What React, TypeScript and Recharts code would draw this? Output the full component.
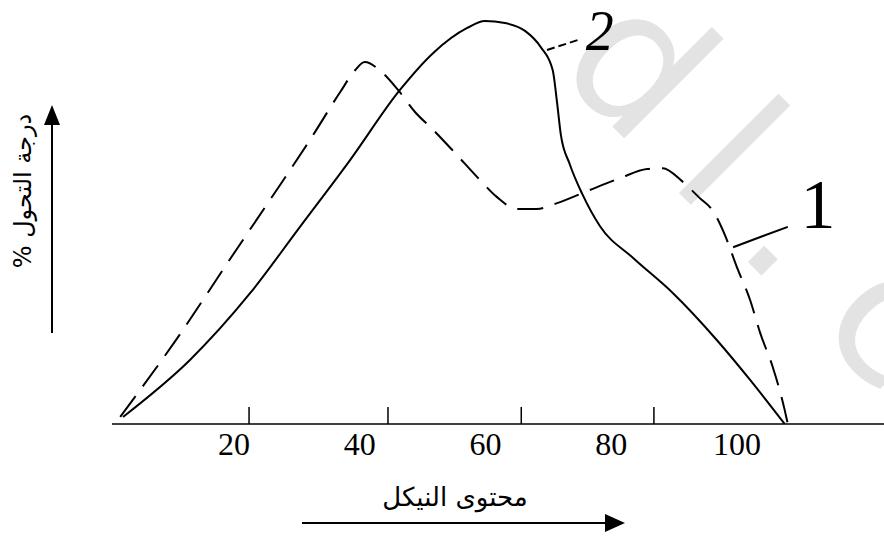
import React from "react";
import {
  LineChart,
  Line,
  XAxis,
  YAxis,
  ReferenceLine,
  ReferenceDot,
} from "recharts";

// nickel content (x) vs transformation degree % (y)
const curve1X = [1.9, 11.1, 19.05, 25.7, 32.1, 36.9, 39.3, 40.8, 43.5, 46.1, 48.8, 51.7, 55.2, 59.1, 61.8, 65.0, 68.2, 71.4, 76.2, 81.4, 85.7, 88.2, 91.4, 94.1, 96.2, 98.1, 100.0, 102.1, 103.7, 105.7, 107.6, 108.1];
const curve1Y = [1.7, 20.9, 38.9, 53.8, 68.3, 79.8, 85.1, 87.0, 84.6, 80.3, 75.0, 70.7, 65.1, 58.7, 54.6, 51.7, 51.7, 53.1, 56.0, 59.1, 61.3, 61.5, 58.2, 54.3, 51.2, 45.4, 37.7, 29.8, 21.9, 13.7, 3.4, 0];

const curve2X = [2.35, 13.0, 22.6, 30.5, 38.5, 46.4, 51.7, 57.1, 59.9, 63.1, 66.3, 68.8, 70.7, 71.4, 72.0, 73.4, 75.4, 78.2, 83.5, 89.8, 96.8, 102.1, 107.6];
const curve2Y = [1.7, 15.4, 31.5, 47.4, 63.5, 80.3, 89.2, 95.2, 96.9, 96.4, 94.5, 90.6, 85.1, 77.2, 69.5, 62.5, 55.3, 47.6, 39.9, 31.5, 20.2, 10.6, 0];

const xTicks = [20, 40, 60, 80, 100];
// the printed tick marks sit a bit right of the numbers
const tickMarks = [22.4, 44.5, 65.7, 86.8];

const curve1 = curve1X.map((x, i) => ({ x, y: curve1Y[i] }));
const curve2 = curve2X.map((x, i) => ({ x, y: curve2Y[i] }));

const FONT_AR = "'DejaVu Sans', sans-serif";
const FONT_NUM = "'Liberation Serif', serif";

export default function App() {
  return (
    <div style={{ position: "absolute", left: 0, top: 0, width: 884, height: 538, background: "#fff" }}>
      {/* watermark */}
      <svg width={884} height={538} style={{ position: "absolute", left: 0, top: 0 }}>
        <g transform="translate(683,197) rotate(45)" fontFamily="'DejaVu Sans', sans-serif" fontSize={185} fill="#e3e3e3">
          <text x={-184} y={0}>d</text>
          <text x={-23} y={0}>l</text>
          <text x={72} y={0}>.</text>
          <text x={185} y={0}>c</text>
        </g>
      </svg>

      <div style={{ position: "absolute", left: 0, top: 0 }}>
        <LineChart width={884} height={538} margin={{ top: 8, right: 0, bottom: 0, left: 112 }}>
          <XAxis
            type="number"
            dataKey="x"
            domain={[0.6, 123.4]}
            ticks={xTicks}
            allowDataOverflow
            height={114}
            tickLine={false}
            tickMargin={2}
            axisLine={{ stroke: "#000", strokeWidth: 1.5 }}
            tick={{ fill: "#000", fontSize: 32, fontFamily: FONT_NUM }}
          />
          <YAxis
            type="number"
            domain={[0, 100]}
            width={0}
            tick={false}
            tickLine={false}
            axisLine={{ stroke: "#000", strokeWidth: 1.5 }}
          />
          {tickMarks.map((t) => (
            <ReferenceLine
              key={t}
              segment={[{ x: t, y: 0 }, { x: t, y: 4.1 }]}
              stroke="#000"
              strokeWidth={1.5}
            />
          ))}
          <Line
            data={curve1}
            dataKey="y"
            type="monotone"
            stroke="#000"
            strokeWidth={2}
            strokeDasharray="26 12"
            dot={false}
            isAnimationActive={false}
          />
          <Line
            data={curve2}
            dataKey="y"
            type="monotone"
            stroke="#000"
            strokeWidth={2}
            dot={false}
            isAnimationActive={false}
          />
          {/* curve labels */}
          <ReferenceLine segment={[{ x: 69.8, y: 89.9 }, { x: 74.7, y: 92.3 }]} stroke="#000" strokeWidth={2} strokeDasharray="8 4" />
          <ReferenceDot x={78.2} y={94.7} r={0} stroke="none" fill="none"
            label={{ value: "2", position: "center", fontSize: 56, fill: "#000", fontFamily: FONT_NUM, fontStyle: "italic" }} />
          <ReferenceLine segment={[{ x: 99.4, y: 42.5 }, { x: 108.1, y: 47.4 }]} stroke="#000" strokeWidth={2} />
          <ReferenceDot x={112.9} y={53.1} r={0} stroke="none" fill="none"
            label={{ value: "1", position: "center", fontSize: 70, fill: "#000", fontFamily: FONT_NUM }} />
        </LineChart>
      </div>

      {/* axis titles with arrows */}
      <svg width={884} height={538} style={{ position: "absolute", left: 0, top: 0 }}>
        <text
          transform="translate(23,191) rotate(-90)"
          textAnchor="middle"
          dominantBaseline="central"
          direction="rtl"
          fontFamily={FONT_AR}
          fontSize={24}
          fill="#000"
        >
          درجة التحول %
        </text>
        <line x1={52} y1={333} x2={52} y2={122} stroke="#000" strokeWidth={2} />
        <polygon points="44,125 52,105 60,125" fill="#000" />

        <text x={455} y={497} textAnchor="middle" dominantBaseline="central" direction="rtl"
          fontFamily={FONT_AR} fontSize={26} fill="#000">
          محتوى النيكل
        </text>
        <line x1={302} y1={523} x2={608} y2={523} stroke="#000" strokeWidth={2} />
        <polygon points="605,514 625,523 605,532" fill="#000" />
      </svg>
    </div>
  );
}
